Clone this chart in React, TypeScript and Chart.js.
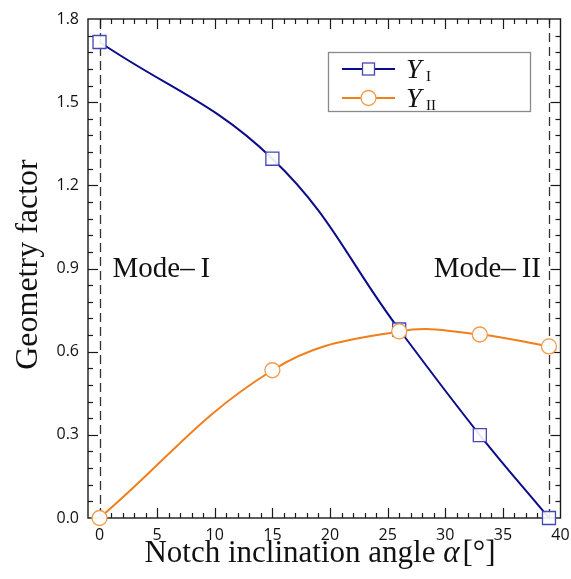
import React, { useEffect, useRef } from 'react';
import { Chart, registerables } from 'chart.js';
Chart.register(...registerables);

// ---- data ----
const ANGLES = [0, 15, 26, 33, 39];
const Y_I = [1.717, 1.296, 0.68, 0.299, 0.0];
const Y_II = [0.0, 0.533, 0.673, 0.662, 0.619];
const X_TICKS = [0, 5, 10, 15, 20, 25, 30, 35, 40];
const Y_TICKS = [0, 0.3, 0.6, 0.9, 1.2, 1.5, 1.8];
const MODE_LINES = [0, 39];
const X_MIN = -1;
const X_MAX = 40;
const Y_MIN = 0;
const Y_MAX = 1.8;
const X_MINOR = 1;
const Y_MINOR = 0.06;

const C_I_LINE = '#0c0c8a';
const C_I_MARK = '#4646b8';
const C_II_LINE = '#f07f1c';
const C_II_MARK = '#f49a48';
const SERIF = '"Liberation Serif", "DejaVu Serif", serif';
const SANS = '"Open Sans", "DejaVu Sans", sans-serif';

const decorPlugin = {
  id: 'decor',
  beforeDatasetsDraw(chart: any) {
    const { ctx, chartArea: a, scales } = chart;
    const xs = scales.x;
    const ys = scales.y;
    ctx.save();
    ctx.strokeStyle = '#333';
    ctx.lineWidth = 1.3;
    ctx.setLineDash([9, 5]);
    MODE_LINES.forEach((v) => {
      const px = Math.round(xs.getPixelForValue(v)) + 0.5;
      ctx.beginPath();
      ctx.moveTo(px, a.top);
      ctx.lineTo(px, a.bottom);
      ctx.stroke();
    });
    ctx.setLineDash([]);
    ctx.strokeStyle = '#1a1a1a';
    ctx.lineWidth = 1.4;
    ctx.strokeRect(a.left, a.top, a.right - a.left, a.bottom - a.top);
    ctx.lineWidth = 1.2;
    const seg = (x1: number, y1: number, x2: number, y2: number) => {
      ctx.beginPath();
      ctx.moveTo(x1, y1);
      ctx.lineTo(x2, y2);
      ctx.stroke();
    };
    const nx = Math.round((X_MAX - X_MIN) / X_MINOR);
    for (let i = 1; i < nx; i++) {
      const v = X_MIN + i * X_MINOR;
      const major = Math.abs(v % 5) < 1e-6;
      const len = major ? 10 : 5;
      const px = Math.round(xs.getPixelForValue(v)) + 0.5;
      seg(px, a.bottom, px, a.bottom - len);
      seg(px, a.top, px, a.top + len);
    }
    const ny = Math.round((Y_MAX - Y_MIN) / Y_MINOR);
    for (let i = 1; i < ny; i++) {
      const v = Y_MIN + i * Y_MINOR;
      const major = i % 5 === 0;
      const len = major ? 10 : 5;
      const py = Math.round(ys.getPixelForValue(v)) + 0.5;
      seg(a.left, py, a.left + len, py);
      seg(a.right, py, a.right - len, py);
    }
    ctx.restore();
  },
  afterDraw(chart: any) {
    const { ctx, chartArea: a, scales } = chart;
    const xs = scales.x;
    const ys = scales.y;
    ctx.save();
    ctx.fillStyle = '#111';
    ctx.textBaseline = 'alphabetic';

    // Mode labels
    ctx.font = `29px ${SERIF}`;
    const modeY = ys.getPixelForValue(0.9) + 8;
    ctx.textAlign = 'left';
    ctx.fillText('Mode–\u2009I', xs.getPixelForValue(MODE_LINES[0]) + 13, modeY);
    ctx.textAlign = 'right';
    ctx.fillText('Mode–\u2009II', xs.getPixelForValue(MODE_LINES[1]) - 8, modeY);

    // x title
    const partA = 'Notch inclination angle ';
    const partB = 'α';
    const partC = '[°]';
    const fx = 31;
    ctx.font = `${fx}px ${SERIF}`;
    const wA = ctx.measureText(partA).width;
    const wC = ctx.measureText(partC).width;
    ctx.font = `italic ${fx}px ${SERIF}`;
    const wB = ctx.measureText(partB).width;
    const total = wA + wB + wC + 3;
    const x0 = 320 - total / 2;
    const bl = 562;
    ctx.textAlign = 'left';
    ctx.font = `${fx}px ${SERIF}`;
    ctx.fillText(partA, x0, bl);
    ctx.font = `italic ${fx}px ${SERIF}`;
    ctx.fillText(partB, x0 + wA, bl);
    ctx.font = `${fx}px ${SERIF}`;
    ctx.fillText(partC, x0 + wA + wB + 3, bl);

    // y title
    ctx.save();
    ctx.translate(37, (a.top + a.bottom) / 2 - 4);
    ctx.rotate(-Math.PI / 2);
    ctx.textAlign = 'center';
    ctx.font = `32px ${SERIF}`;
    ctx.fillText('Geometry factor', 0, 0);
    ctx.restore();

    // legend
    const lx = 328, ly = 52, lw = 202, lh = 59;
    ctx.fillStyle = '#fff';
    ctx.fillRect(lx, ly, lw, lh);
    ctx.strokeStyle = '#8a8a8a';
    ctx.lineWidth = 1.3;
    ctx.strokeRect(lx + 0.5, ly + 0.5, lw, lh);
    const rows = [
      { y: 69, line: C_I_LINE, mark: C_I_MARK, shape: 'rect', sub: 'I' },
      { y: 98, line: C_II_LINE, mark: C_II_MARK, shape: 'circle', sub: 'II' },
    ];
    rows.forEach((r) => {
      ctx.strokeStyle = r.line;
      ctx.lineWidth = 2;
      ctx.beginPath();
      ctx.moveTo(342, r.y);
      ctx.lineTo(395, r.y);
      ctx.stroke();
      ctx.fillStyle = '#fff';
      ctx.strokeStyle = r.mark;
      ctx.lineWidth = 1.3;
      if (r.shape === 'rect') {
        ctx.fillRect(362.5, r.y - 6, 12, 12);
        ctx.strokeRect(362.5, r.y - 6, 12, 12);
      } else {
        ctx.beginPath();
        ctx.arc(368.5, r.y, 7.5, 0, Math.PI * 2);
        ctx.fill();
        ctx.stroke();
      }
      ctx.fillStyle = '#111';
      ctx.textAlign = 'left';
      ctx.font = `italic 28px ${SERIF}`;
      ctx.fillText('Y', 406, r.y + 9);
      ctx.font = `15px ${SERIF}`;
      ctx.fillText(r.sub, 426, r.y + 12);
    });
    ctx.restore();
  },
};

export default function App() {
  const ref = useRef<HTMLCanvasElement | null>(null);
  useEffect(() => {
    if (!ref.current) return;
    const chart = new Chart(ref.current, {
      type: 'line',
      data: {
        datasets: [
          {
            label: 'Y_I',
            data: ANGLES.map((x, i) => ({ x, y: Y_I[i] })),
            borderColor: C_I_LINE,
            borderWidth: 2,
            pointStyle: 'rect',
            pointRadius: 9.2,
            pointBorderColor: C_I_MARK,
            pointBackgroundColor: 'rgba(255,255,255,0.9)',
            pointBorderWidth: 1.3,
            tension: 0.4,
            fill: false,
            clip: false,
            order: 1,
          },
          {
            label: 'Y_II',
            data: ANGLES.map((x, i) => ({ x, y: Y_II[i] })),
            borderColor: C_II_LINE,
            borderWidth: 2,
            pointStyle: 'circle',
            pointRadius: 7.5,
            pointBorderColor: C_II_MARK,
            pointBackgroundColor: 'rgba(255,255,255,0.95)',
            pointBorderWidth: 1.3,
            tension: 0.4,
            fill: false,
            clip: false,
            order: 0,
          },
        ],
      },
      options: {
        responsive: false,
        animation: false,
        devicePixelRatio: 1,
        layout: { padding: { top: 19, right: 7, left: 0, bottom: 0 } },
        plugins: { legend: { display: false }, tooltip: { enabled: false }, title: { display: false } },
        events: [],
        scales: {
          x: {
            type: 'linear',
            min: X_MIN,
            max: X_MAX,
            afterBuildTicks: (s: any) => {
              s.ticks = X_TICKS.map((v) => ({ value: v }));
            },
            afterFit: (s: any) => {
              s.height = 61;
              s.paddingLeft = 0;
              s.paddingRight = 0;
            },
            grid: { display: false, drawTicks: false },
            border: { display: false },
            ticks: {
              padding: 8,
              autoSkip: false,
              maxRotation: 0,
              color: '#111',
              font: { family: SANS, size: 16 },
              callback: (v: any) => String(v),
            },
          },
          y: {
            type: 'linear',
            min: Y_MIN,
            max: Y_MAX,
            afterBuildTicks: (s: any) => {
              s.ticks = Y_TICKS.map((v) => ({ value: v }));
            },
            afterFit: (s: any) => {
              s.width = 88;
              s.paddingTop = 0;
              s.paddingBottom = 0;
            },
            grid: { display: false, drawTicks: false },
            border: { display: false },
            ticks: {
              padding: 9,
              autoSkip: false,
              color: '#111',
              font: { family: SANS, size: 16 },
              callback: (v: any) => Number(v).toFixed(1),
            },
          },
        },
      },
      plugins: [decorPlugin],
    } as any);
    return () => chart.destroy();
  }, []);
  return (
    <div style={{ position: 'fixed', left: 0, top: 0, width: 571, height: 579, background: '#fff' }}>
      <canvas ref={ref} width={571} height={579} style={{ display: 'block' }} />
    </div>
  );
}
